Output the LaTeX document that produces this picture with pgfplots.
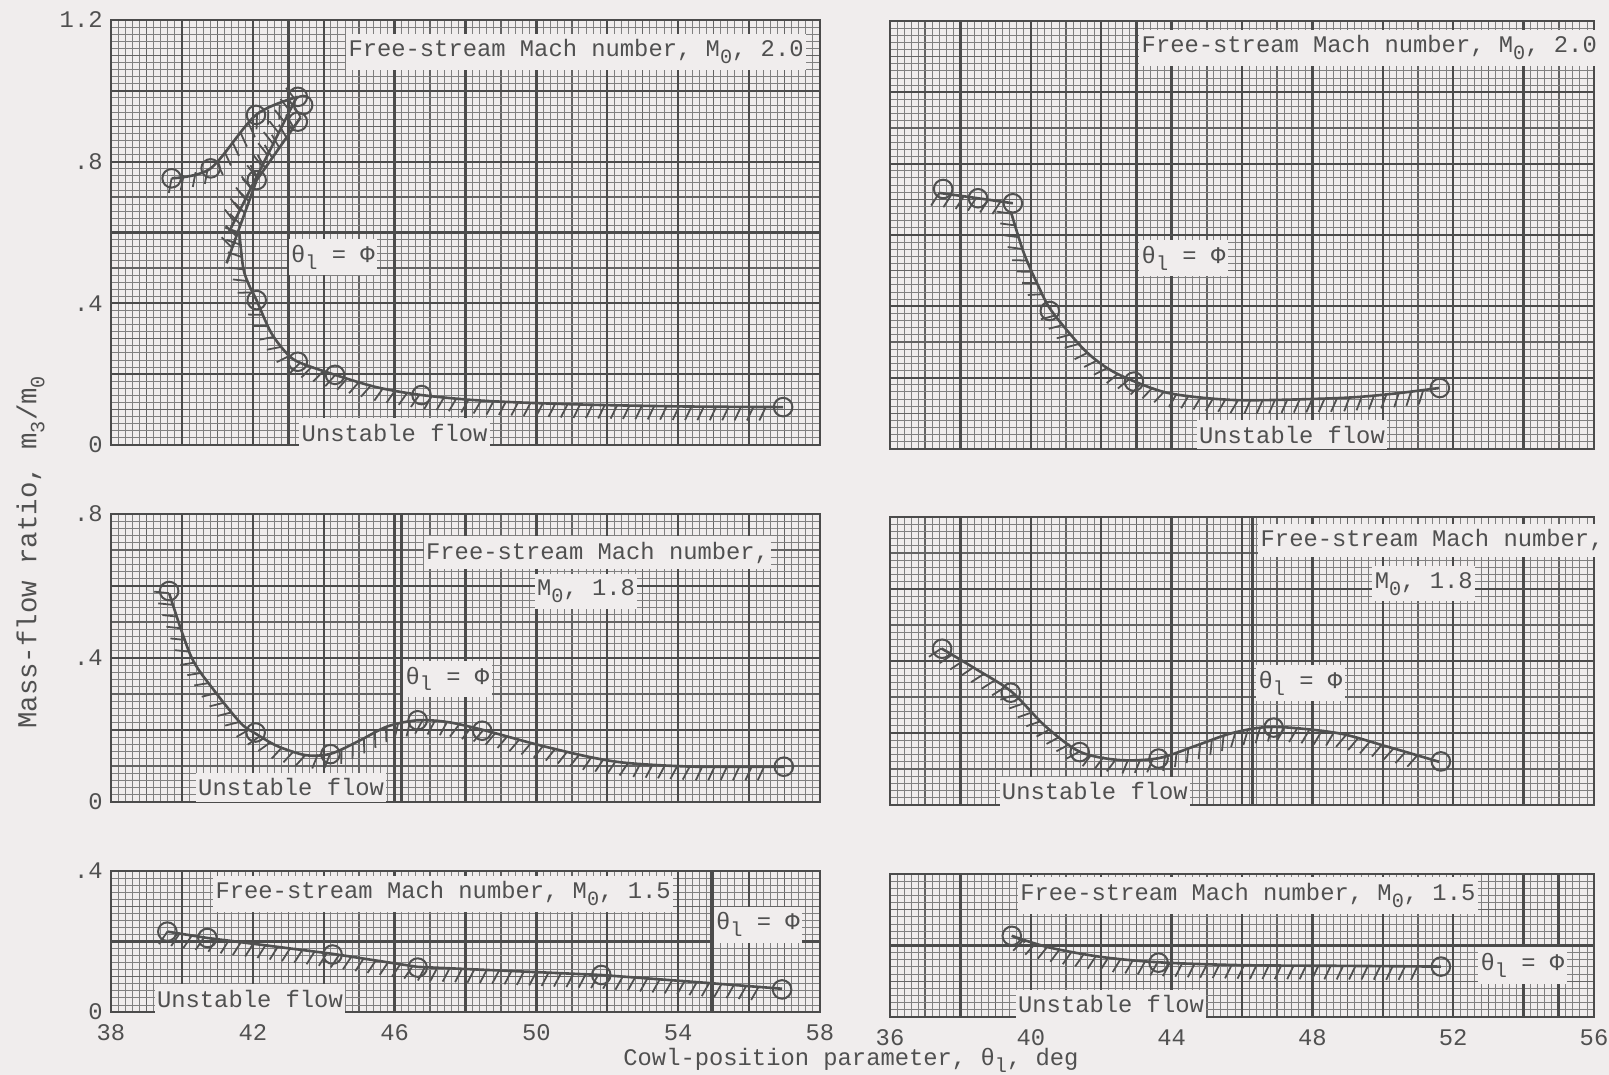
\documentclass[border=0pt]{standalone}
\usepackage{fontspec}
\setmainfont{Liberation Mono}
\usepackage{pgfplots}
\pgfplotsset{compat=1.18}
\usetikzlibrary{decorations.pathreplacing}
\definecolor{bg}{RGB}{240,237,237}
\definecolor{ink}{RGB}{80,80,80}
\definecolor{ink2}{RGB}{80,80,80}
\definecolor{gfine}{RGB}{128,128,128}
\definecolor{gmed}{RGB}{100,100,100}
\definecolor{gheavy}{RGB}{75,75,75}
\newcommand{\sub}[1]{\raisebox{-0.55ex}{\fontsize{8.5}{9}\selectfont #1}}
\pgfplotsset{
  paper/.style={
    scale only axis, anchor=north west, clip=false,
    axis line style={draw=gheavy, line width=1pt},
    xtick distance=1, ytick distance=0.1,
    minor x tick num=4, minor y tick num=4,
    grid=both,
    minor grid style={draw=gfine, line width=0.38pt},
    major grid style={draw=gmed, line width=0.6pt},
    xticklabel=\empty, yticklabel=\empty,
    major tick length=0pt, minor tick length=0pt,
    extra x tick style={major grid style={draw=gheavy, line width=0.95pt}, major tick length=0pt},
    extra y tick style={major grid style={draw=gheavy, line width=0.95pt}, major tick length=0pt},
    tick label style={text=ink, font=\fontsize{10}{12}\selectfont},
    xticklabel style={yshift=-1.8pt},
  },
  curve/.style={smooth, no markers, line width=1.1pt, draw=ink2},
  deco/.style={postaction={draw, line width=0.75pt, decorate, decoration={border, segment length=5.2pt, amplitude=6.3pt, angle=-115}}},
  hdeco/.style={sharp plot, no markers, draw=none, postaction={draw=ink2, line width=0.75pt, decorate, decoration={border, segment length=5.2pt, amplitude=6.3pt, angle=-115}}},
  phi/.style={no markers, draw=gheavy, line width=1.4pt},
  circ/.style={only marks, mark=o, mark size=3.9pt, mark options={draw=ink2, line width=0.85pt}},
}
\tikzset{lbl/.style={fill=bg, text=ink, anchor=west, inner xsep=1pt, inner ysep=2.5pt, font=\fontsize{10}{12}\selectfont}}
\begin{document}
\begin{tikzpicture}
\fill[bg] (0,0) rectangle (675.78pt,-451.5pt);
\useasboundingbox (0,0) rectangle (675.78pt,-451.5pt);

% ---------- top left: M0 = 2.0
\begin{axis}[paper, at={(46.62pt,-8.4pt)}, width=297.78pt, height=178.5pt,
  xmin=38, xmax=58, ymin=0, ymax=1.2,
  extra x ticks={38,40,42,44,46,48,50,52,54,56,58},
  extra y ticks={0,0.2,0.4,0.6,0.8,1,1.2}, extra y tick labels={0,,.4,,.8,,1.2}]
\addplot[phi] coordinates {(43,0) (43,1.2)};
\addplot[curve] coordinates {(39.71,0.753) (40.81,0.781) (42.09,0.932) (43.27,0.983)};
\addplot[hdeco] coordinates {(39.71,0.753) (40.81,0.781) (42.09,0.932) (43.27,0.983)};
\addplot[curve, sharp plot] coordinates {(43.2,0.975) (41.31,0.598)};
\addplot[hdeco] coordinates {(43.2,0.975) (41.31,0.598)};
\addplot[curve, sharp plot] coordinates {(43.35,0.925) (42.11,0.748) (41.26,0.513)};
\addplot[hdeco] coordinates {(43.35,0.925) (42.11,0.748) (41.26,0.513)};
\addplot[curve] coordinates {(41.62,0.6) (41.73,0.5) (41.9,0.45) (42.1,0.41) (42.5,0.32) (42.9,0.265) (43.27,0.235) (44.32,0.198) (45.5,0.163) (46.76,0.141) (48.5,0.125) (51,0.115) (54,0.109) (56.96,0.107)};
\addplot[hdeco] coordinates {(41.62,0.6) (41.73,0.5) (41.9,0.45) (42.1,0.41) (42.5,0.32) (42.9,0.265) (43.27,0.235) (44.32,0.198) (45.5,0.163) (46.76,0.141) (48.5,0.125) (51,0.115) (54,0.109) (56.96,0.107)};
\addplot[circ] coordinates {(39.71,0.753) (40.81,0.781) (42.09,0.932) (43.27,0.983) (43.42,0.96) (43.27,0.913) (42.11,0.748) (42.11,0.409) (43.27,0.235) (44.32,0.198) (46.76,0.141) (56.96,0.107)};
\node[lbl] at (axis cs:44.62,1.11) {Free-stream Mach number, M\sub{0}, 2.0};
\node[lbl] at (axis cs:43.0,0.53) {θ\sub{l} = Φ};
\node[lbl] at (axis cs:43.3,0.035) {Unstable flow};
\end{axis}

% ---------- top right: M0 = 2.0
\begin{axis}[paper, at={(373.8pt,-8.82pt)}, width=295.68pt, height=179.76pt,
  xmin=36, xmax=56, ymin=0, ymax=1.2,
  extra x ticks={36,38,40,42,44,46,48,50,52,54,56},
  extra y ticks={0,0.2,0.4,0.6,0.8,1,1.2}]
\addplot[phi] coordinates {(43,0) (43,1.2)};
\addplot[curve] coordinates {(37.4,0.718) (38.5,0.703) (39.49,0.689)};
\addplot[hdeco] coordinates {(37.4,0.718) (38.5,0.703) (39.49,0.689)};
\addplot[curve] coordinates {(39.45,0.66) (39.8,0.55) (40.2,0.46) (40.59,0.387) (41.5,0.28) (42.2,0.225) (42.93,0.19) (44,0.155) (45.9,0.137) (48.8,0.143) (50.3,0.155) (51.6,0.171)};
\addplot[hdeco] coordinates {(39.45,0.66) (39.8,0.55) (40.2,0.46) (40.59,0.387) (41.5,0.28) (42.2,0.225) (42.93,0.19) (44,0.155) (45.9,0.137) (48.8,0.143) (50.3,0.155) (51.6,0.171)};
\addplot[circ] coordinates {(37.51,0.729) (38.5,0.703) (39.49,0.689) (40.54,0.387) (42.93,0.189) (51.62,0.171)};
\node[lbl] at (axis cs:43.07,1.125) {Free-stream Mach number, M\sub{0}, 2.0};
\node[lbl] at (axis cs:43.07,0.535) {θ\sub{l} = Φ};
\node[lbl] at (axis cs:44.7,0.04) {Unstable flow};
\end{axis}

% ---------- middle left: M0 = 1.8
\begin{axis}[paper, at={(46.62pt,-215.88pt)}, width=297.78pt, height=120.96pt,
  xmin=38, xmax=58, ymin=0, ymax=0.8,
  extra x ticks={38,40,42,44,46,48,50,52,54,56,58},
  extra y ticks={0,0.2,0.4,0.6,0.8}, extra y tick labels={0,,.4,,.8}]
\addplot[phi] coordinates {(46.2,0) (46.2,0.8)};
\addplot[curve] coordinates {(39.64,0.58) (40.26,0.404) (40.9,0.311) (41.66,0.219) (42.08,0.19) (42.7,0.155) (43.5,0.13) (44.2,0.134) (45,0.17) (45.8,0.21) (46.65,0.227) (47.5,0.222) (48.5,0.2) (50,0.16) (51.5,0.125) (52.6,0.108) (54.5,0.098) (57,0.098)};
\addplot[hdeco] coordinates {(39.64,0.58) (40.26,0.404) (40.9,0.311) (41.66,0.219) (42.08,0.19) (42.7,0.155) (43.5,0.13) (44.2,0.134) (45,0.17) (45.8,0.21) (46.65,0.227) (47.5,0.222) (48.5,0.2) (50,0.16) (51.5,0.125) (52.6,0.108) (54.5,0.098) (57,0.098)};
\addplot[circ] coordinates {(39.64,0.586) (42.08,0.193) (44.19,0.133) (46.65,0.227) (48.47,0.198) (56.98,0.098)};
\node[lbl] at (axis cs:46.81,0.693) {Free-stream Mach number,};
\node[lbl] at (axis cs:49.94,0.586) {M\sub{0}, 1.8};
\node[lbl] at (axis cs:46.23,0.342) {θ\sub{l} = Φ};
\node[lbl] at (axis cs:40.38,0.041) {Unstable flow};
\end{axis}

% ---------- middle right: M0 = 1.8
\begin{axis}[paper, at={(373.8pt,-217.14pt)}, width=295.68pt, height=120.96pt,
  xmin=36, xmax=56, ymin=0, ymax=0.8,
  extra x ticks={36,38,40,42,44,46,48,50,52,54,56},
  extra y ticks={0,0.2,0.4,0.6,0.8}]
\addplot[phi] coordinates {(46.3,0) (46.3,0.8)};
\addplot[curve] coordinates {(37.46,0.435) (38.4,0.38) (39.45,0.315) (40.4,0.22) (41.39,0.148) (42.5,0.125) (43.63,0.13) (44.7,0.165) (45.73,0.2) (46.88,0.217) (48.7,0.2) (50.1,0.163) (51.6,0.12)};
\addplot[hdeco] coordinates {(37.46,0.435) (38.4,0.38) (39.45,0.315) (40.4,0.22) (41.39,0.148) (42.5,0.125) (43.63,0.13) (44.7,0.165) (45.73,0.2) (46.88,0.217) (48.7,0.2) (50.1,0.163) (51.6,0.12)};
\addplot[circ] coordinates {(37.48,0.434) (39.43,0.312) (41.39,0.147) (43.63,0.129) (46.9,0.215) (51.65,0.121)};
\node[lbl] at (axis cs:46.45,0.735) {Free-stream Mach number,};
\node[lbl] at (axis cs:49.69,0.614) {M\sub{0}, 1.8};
\node[lbl] at (axis cs:46.39,0.339) {θ\sub{l} = Φ};
\node[lbl] at (axis cs:39.1,0.038) {Unstable flow};
\end{axis}

% ---------- bottom left: M0 = 1.5
\begin{axis}[paper, at={(46.62pt,-365.82pt)}, width=297.78pt, height=59.22pt,
  xmin=38, xmax=58, ymin=0, ymax=0.4,
  extra x ticks={38,40,42,44,46,48,50,52,54,56,58}, extra x tick labels={38,,42,,46,,50,,54,,58},
  extra y ticks={0,0.2,0.4}, extra y tick labels={0,,.4}]
\addplot[phi] coordinates {(54.95,0) (54.95,0.4)};
\addplot[curve, sharp plot, deco] coordinates {(39.59,0.228) (40.72,0.21) (44.25,0.165) (46.65,0.128) (51.83,0.105) (54.5,0.085) (56.93,0.066)};
\addplot[circ] coordinates {(39.59,0.228) (40.72,0.21) (44.25,0.163) (46.65,0.126) (51.83,0.105) (56.93,0.064)};
\node[lbl] at (axis cs:40.87,0.335) {Free-stream Mach number, M\sub{0}, 1.5};
\node[lbl] at (axis cs:54.99,0.248) {θ\sub{l} = Φ};
\node[lbl] at (axis cs:39.22,0.037) {Unstable flow};
\end{axis}

% ---------- bottom right: M0 = 1.5
\begin{axis}[paper, at={(373.8pt,-367.08pt)}, width=295.68pt, height=60.06pt,
  xmin=36, xmax=56, ymin=0, ymax=0.4,
  extra x ticks={36,38,40,42,44,46,48,50,52,54,56}, extra x tick labels={36,,40,,44,,48,,52,,56},
  extra y ticks={0,0.2,0.4}]
\addplot[phi] coordinates {(55,0) (55,0.4)};
\addplot[curve, deco] coordinates {(39.46,0.227) (40.5,0.195) (42,0.168) (43.63,0.153) (46,0.145) (49,0.143) (51.65,0.141)};
\addplot[circ] coordinates {(39.46,0.227) (43.63,0.152) (51.65,0.141)};
\node[lbl] at (axis cs:39.62,0.34) {Free-stream Mach number, M\sub{0}, 1.5};
\node[lbl] at (axis cs:52.7,0.144) {θ\sub{l} = Φ};
\node[lbl] at (axis cs:39.56,0.035) {Unstable flow};
\end{axis}

\node[text=ink, font=\fontsize{10}{12}\selectfont] at (357.4pt,-445.3pt) {Cowl-position parameter, θ\sub{l}, deg};
\node[text=ink, font=\fontsize{11.5}{13}\selectfont, rotate=90] at (12.8pt,-232pt) {Mass-flow ratio, m\sub{3}/m\sub{0}};
\end{tikzpicture}
\end{document}
